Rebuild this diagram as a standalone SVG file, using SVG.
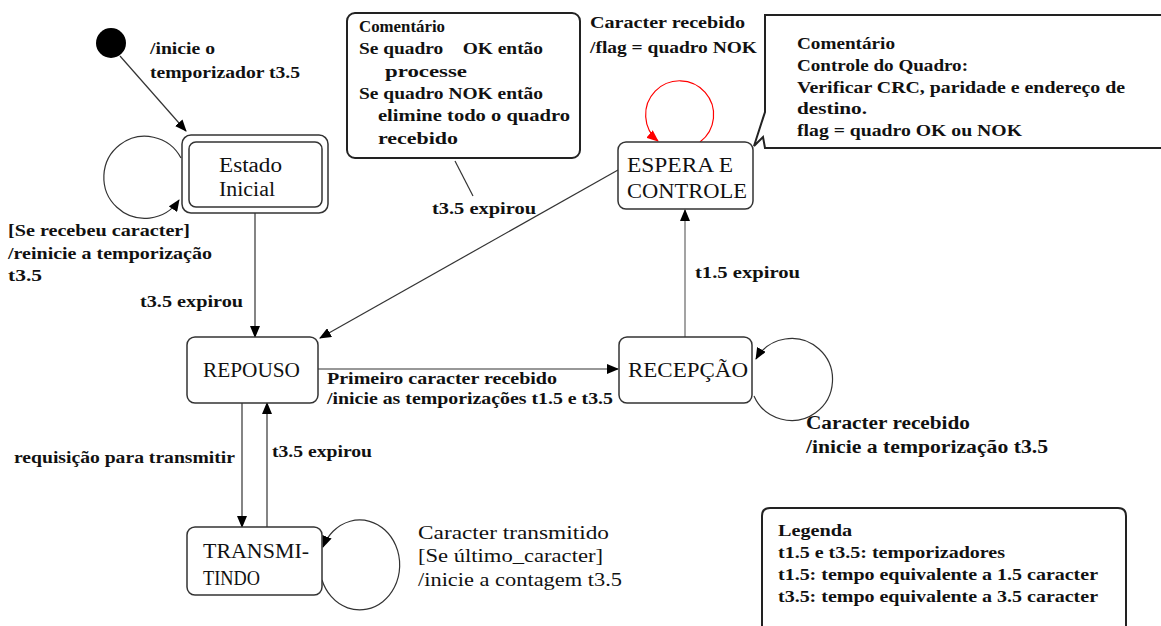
<svg xmlns="http://www.w3.org/2000/svg" width="1161" height="626" viewBox="0 0 1161 626">
<defs>
<marker id="arr" viewBox="0 0 12 10" refX="11" refY="5" markerWidth="12" markerHeight="10" markerUnits="userSpaceOnUse" orient="auto">
<path d="M0,0 L12,5 L0,10 Z" fill="#000"/>
</marker>
<marker id="arrRed" viewBox="0 0 12 10" refX="11" refY="5" markerWidth="12" markerHeight="10" markerUnits="userSpaceOnUse" orient="auto">
<path d="M0,0 L12,5 L0,10 Z" fill="#f00"/>
</marker>
</defs>
<style>
.box{fill:#fff;stroke:#333;stroke-width:1.5}
.note{fill:#fff;stroke:#222;stroke-width:2}
.edge{fill:none;stroke:#333;stroke-width:1.2}
.red{stroke:#f00}
.gray{stroke:#666}
.node{font-family:"Liberation Serif","Times New Roman",serif;font-size:20px;fill:#111}
.lbl{font-family:"Liberation Serif","Times New Roman",serif;font-size:16px;font-weight:bold;fill:#111}
.reg{font-family:"Liberation Serif","Times New Roman",serif;font-size:18px;fill:#111}
</style>
<rect width="1161" height="626" fill="#fff"/>

<g id="connectors">
<line class="edge" x1="120" y1="56" x2="186" y2="131" marker-end="url(#arr)"/>
<path class="edge" d="M181,158 A41,41 0 1 0 179,200" marker-end="url(#arr)"/>
<line class="edge" x1="255" y1="213" x2="255" y2="337" marker-end="url(#arr)"/>
<line class="edge" x1="618" y1="170" x2="320" y2="338" marker-end="url(#arr)"/>
<line class="edge" x1="318" y1="369" x2="618" y2="369" marker-end="url(#arr)"/>
<line class="edge gray" x1="685" y1="337" x2="685" y2="210" marker-end="url(#arr)"/>
<path class="edge" d="M754,396 A41,41 0 1 0 756,359" marker-end="url(#arr)"/>
<path class="edge red" d="M700,142 A34,34 0 1 0 658,141" marker-end="url(#arrRed)"/>
<line class="edge" x1="242" y1="403" x2="242" y2="527" marker-end="url(#arr)"/>
<line class="edge" x1="267" y1="527" x2="267" y2="403" marker-end="url(#arr)"/>
<path class="edge" d="M322,580 A40,45 0 1 0 323,547" marker-end="url(#arr)"/>
<line class="edge" x1="455" y1="161" x2="473" y2="196"/>
</g>

<g id="initial">
<circle cx="111" cy="43" r="15" fill="#000"/>
</g>

<g id="estado-inicial">
<rect class="box" x="182" y="135" width="146" height="78" rx="9"/>
<rect class="box" x="189" y="142" width="133" height="65" rx="7"/>
<text class="node" x="219" y="172" textLength="63" lengthAdjust="spacingAndGlyphs">Estado</text>
<text class="node" x="219" y="196" textLength="56" lengthAdjust="spacingAndGlyphs">Inicial</text>
</g>

<g id="repouso">
<rect class="box" x="187" y="337" width="131" height="66" rx="8"/>
<text class="node" x="203" y="377" textLength="97" lengthAdjust="spacingAndGlyphs">REPOUSO</text>
</g>

<g id="recepcao">
<rect class="box" x="619" y="337" width="133" height="66" rx="8"/>
<text class="node" x="628" y="377" textLength="120" lengthAdjust="spacingAndGlyphs">RECEPÇÃO</text>
</g>

<g id="espera">
<rect class="box" x="618" y="142" width="135" height="67" rx="8"/>
<text class="node" x="627" y="172" textLength="106" lengthAdjust="spacingAndGlyphs">ESPERA E</text>
<text class="node" x="627" y="198" textLength="120" lengthAdjust="spacingAndGlyphs">CONTROLE</text>
</g>

<g id="transmitindo">
<rect class="box" x="187" y="527" width="135" height="68" rx="8"/>
<text class="node" x="203" y="558" textLength="106" lengthAdjust="spacingAndGlyphs">TRANSMI-</text>
<text class="node" x="203" y="585" textLength="57" lengthAdjust="spacingAndGlyphs">TINDO</text>
</g>

<g id="comentario1">
<rect class="note" x="347" y="13" width="233" height="145" rx="8"/>
<text class="lbl" x="359" y="32" textLength="86" lengthAdjust="spacingAndGlyphs">Comentário</text>
<text class="lbl" x="359" y="54" textLength="184" lengthAdjust="spacingAndGlyphs" xml:space="preserve">Se quadro    OK então</text>
<text class="lbl" x="385" y="77" textLength="82" lengthAdjust="spacingAndGlyphs">processe</text>
<text class="lbl" x="359" y="99" textLength="184" lengthAdjust="spacingAndGlyphs">Se quadro NOK então</text>
<text class="lbl" x="378" y="121" textLength="192" lengthAdjust="spacingAndGlyphs">elimine todo o quadro</text>
<text class="lbl" x="378" y="144" textLength="80" lengthAdjust="spacingAndGlyphs">recebido</text>
</g>

<g id="comentario2">
<path class="note" d="M1170,15 L765,15 L765,112 L754,146 L763,137 L765,148 L1170,148"/>
<text class="lbl" x="797" y="49" textLength="98" lengthAdjust="spacingAndGlyphs">Comentário</text>
<text class="lbl" x="797" y="71" textLength="171" lengthAdjust="spacingAndGlyphs">Controle do Quadro:</text>
<text class="lbl" x="797" y="93" textLength="328" lengthAdjust="spacingAndGlyphs">Verificar CRC, paridade e endereço de</text>
<text class="lbl" x="797" y="114" textLength="70" lengthAdjust="spacingAndGlyphs">destino.</text>
<text class="lbl" x="797" y="136" textLength="225" lengthAdjust="spacingAndGlyphs">flag = quadro OK ou NOK</text>
</g>

<g id="legenda">
<path class="note" d="M762,640 L762,516 Q762,508 770,508 L1118,508 Q1126,508 1126,516 L1126,640"/>
<text class="lbl" x="778" y="536" textLength="74" lengthAdjust="spacingAndGlyphs">Legenda</text>
<text class="lbl" x="778" y="558" textLength="227" lengthAdjust="spacingAndGlyphs">t1.5 e t3.5: temporizadores</text>
<text class="lbl" x="778" y="580" textLength="320" lengthAdjust="spacingAndGlyphs">t1.5: tempo equivalente a 1.5 caracter</text>
<text class="lbl" x="778" y="602" textLength="320" lengthAdjust="spacingAndGlyphs">t3.5: tempo equivalente a 3.5 caracter</text>
</g>

<g id="labels">
<text class="lbl" x="150" y="54" textLength="65" lengthAdjust="spacingAndGlyphs">/inicie o</text>
<text class="lbl" x="150" y="78" textLength="150" lengthAdjust="spacingAndGlyphs">temporizador t3.5</text>
<text class="lbl" x="8" y="236" textLength="182" lengthAdjust="spacingAndGlyphs">[Se recebeu caracter]</text>
<text class="lbl" x="8" y="259" textLength="204" lengthAdjust="spacingAndGlyphs">/reinicie a temporização</text>
<text class="lbl" x="8" y="281" textLength="34" lengthAdjust="spacingAndGlyphs">t3.5</text>
<text class="lbl" x="140" y="307" textLength="103" lengthAdjust="spacingAndGlyphs">t3.5 expirou</text>
<text class="lbl" x="432" y="214" textLength="104" lengthAdjust="spacingAndGlyphs">t3.5 expirou</text>
<text class="lbl" x="590" y="28" textLength="155" lengthAdjust="spacingAndGlyphs">Caracter recebido</text>
<text class="lbl" x="590" y="53" textLength="167" lengthAdjust="spacingAndGlyphs">/flag = quadro NOK</text>
<text class="lbl" x="695" y="278" textLength="105" lengthAdjust="spacingAndGlyphs">t1.5 expirou</text>
<text class="lbl" x="327" y="384" textLength="230" lengthAdjust="spacingAndGlyphs">Primeiro caracter recebido</text>
<text class="lbl" x="327" y="404" textLength="286" lengthAdjust="spacingAndGlyphs">/inicie as temporizações t1.5 e t3.5</text>
<text class="reg" x="806" y="429" font-weight="bold" textLength="164" lengthAdjust="spacingAndGlyphs">Caracter recebido</text>
<text class="reg" x="806" y="453" font-weight="bold" textLength="242" lengthAdjust="spacingAndGlyphs">/inicie a temporização t3.5</text>
<text class="lbl" x="14" y="463" textLength="221" lengthAdjust="spacingAndGlyphs">requisição para transmitir</text>
<text class="lbl" x="272" y="457" textLength="100" lengthAdjust="spacingAndGlyphs">t3.5 expirou</text>
<text class="reg" x="418" y="539" textLength="191" lengthAdjust="spacingAndGlyphs">Caracter transmitido</text>
<text class="reg" x="418" y="562" textLength="185" lengthAdjust="spacingAndGlyphs">[Se último_caracter]</text>
<text class="reg" x="418" y="586" textLength="204" lengthAdjust="spacingAndGlyphs">/inicie a contagem t3.5</text>
</g>
</svg>
